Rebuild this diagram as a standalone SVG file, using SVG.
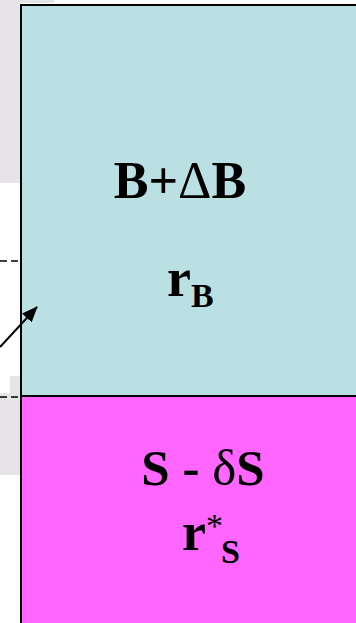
<svg xmlns="http://www.w3.org/2000/svg" width="356" height="623" viewBox="0 0 356 623">
<style>
.bg{fill:#E6E4E7}
.t{font-family:"Liberation Serif","Times New Roman",serif;font-weight:bold;fill:#000}
.dash{stroke:#000;stroke-width:1.5;stroke-dasharray:7,4;fill:none}
</style>
<defs>
<marker id="ah" markerWidth="16" markerHeight="14" refX="15" refY="7" orient="auto" markerUnits="userSpaceOnUse" viewBox="0 0 16 14">
<path d="M0,0.5 L16,7 L0,13.5 Z" fill="#000"/>
</marker>
</defs>
<rect width="356" height="623" fill="#fff"/>
<g id="background">
<rect class="bg" x="0" y="0" width="54" height="3"/>
<rect class="bg" x="0" y="0" width="20" height="183"/>
<rect class="bg" x="10" y="376" width="10" height="18"/>
<rect class="bg" x="0" y="393" width="20" height="82"/>
</g>
<g id="node-B">
<rect x="21" y="5" width="340" height="391" fill="#BBE0E3" stroke="#000" stroke-width="2"/>
<text class="t" x="180" y="198" font-size="52" text-anchor="middle">B+<tspan font-weight="normal">Δ</tspan>B</text>
<text class="t" x="167" y="296" font-size="54">r<tspan font-size="34" dy="11">B</tspan></text>
</g>
<g id="node-S">
<rect x="21" y="396" width="340" height="230" fill="#FF66FF" stroke="#000" stroke-width="2"/>
<text class="t" x="203" y="485" font-size="51" text-anchor="middle">S - <tspan font-weight="normal">δ</tspan>S</text>
<text class="t" x="182" y="550" font-size="54">r<tspan font-weight="normal" font-size="34" dy="-13">*</tspan><tspan font-size="34" dx="-2" dy="26">S</tspan></text>
</g>
<g id="connectors">
<line class="dash" x1="0" y1="261" x2="20" y2="261"/>
<line class="dash" x1="0" y1="397" x2="20" y2="397"/>
<line x1="0" y1="347" x2="37" y2="307" stroke="#000" stroke-width="2" marker-end="url(#ah)"/>
</g>
</svg>
